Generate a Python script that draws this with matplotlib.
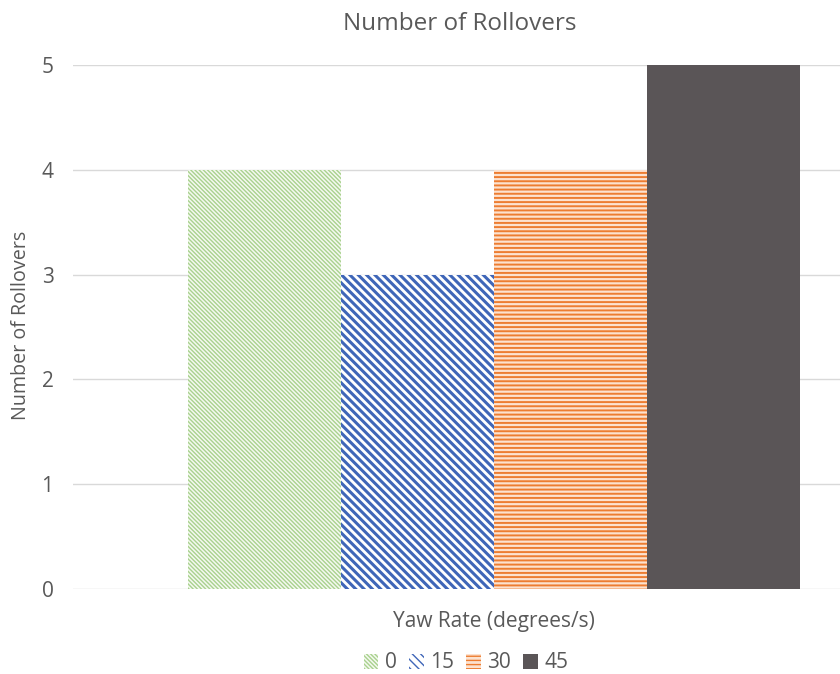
import matplotlib
matplotlib.use("Agg")
import matplotlib.pyplot as plt
from matplotlib.patches import Patch

# Rollover counts per yaw rate (degrees/s)
yaw_rates = ["0", "15", "30", "45"]
rollovers = [4, 3, 4, 5]
y_ticks = [0, 1, 2, 3, 4, 5]

face_colors = ["#F4F9F0", "#FFFFFF", "#FCE2CF", "#5A5557"]
hatch_colors = ["#A9D18E", "#3F66B8", "#ED7D31", "#5A5557"]
hatches = ["\\" * 8, "\\" * 4, "----", None]
hatch_widths = [1.0, 2.2, 1.4, 1.0]

plt.rcParams["font.family"] = ["Open Sans", "DejaVu Sans"]
text_color = "#595959"

fig = plt.figure(figsize=(8.4, 6.74), dpi=100)
ax = fig.add_axes([73 / 840, 1 - 589 / 674, 842 / 840, 524 / 674])

bar_w = 0.1817
offsets = [(i - 1.5) * bar_w for i in range(len(yaw_rates))]
handles = []
for i, (lab, val) in enumerate(zip(yaw_rates, rollovers)):
    plt.rcParams["hatch.linewidth"] = hatch_widths[i]
    ax.bar(offsets[i], val, width=bar_w, facecolor=face_colors[i],
           edgecolor=hatch_colors[i], linewidth=0, hatch=hatches[i], zorder=2)
    handles.append(Patch(facecolor=face_colors[i], edgecolor=hatch_colors[i],
                         linewidth=0, hatch=hatches[i], label=lab))

ax.set_xlim(-0.5, 0.5)
ax.set_ylim(0, 5)
ax.set_yticks(y_ticks)
ax.set_xticks([])
ax.yaxis.grid(True, color="#D9D9D9", linewidth=1.0, zorder=0)
ax.set_axisbelow(True)
for s in ax.spines.values():
    s.set_visible(False)
ax.tick_params(axis="y", length=0, pad=14, labelsize=15, labelcolor=text_color)

fig.text(494 / 840, 1 - 621 / 674, "Yaw Rate (degrees/s)", fontsize=15,
         color=text_color, ha="center", va="center")
fig.text(21 / 840, 1 - 325 / 674, "Number of Rollovers", fontsize=14.2,
         color=text_color, ha="center", va="center", rotation=90)
fig.text(460 / 840, 1 - 24 / 674, "Number of Rollovers", fontsize=17.5,
         color=text_color, ha="center", va="center")

fig.legend(handles=handles, loc="center", bbox_to_anchor=(466 / 840, 1 - 663 / 674),
           ncol=4, frameon=False, fontsize=15, handlelength=0.7, handleheight=0.7,
           handletextpad=0.3, columnspacing=0.6, labelcolor=text_color)

fig.savefig("out.png", dpi=100)
